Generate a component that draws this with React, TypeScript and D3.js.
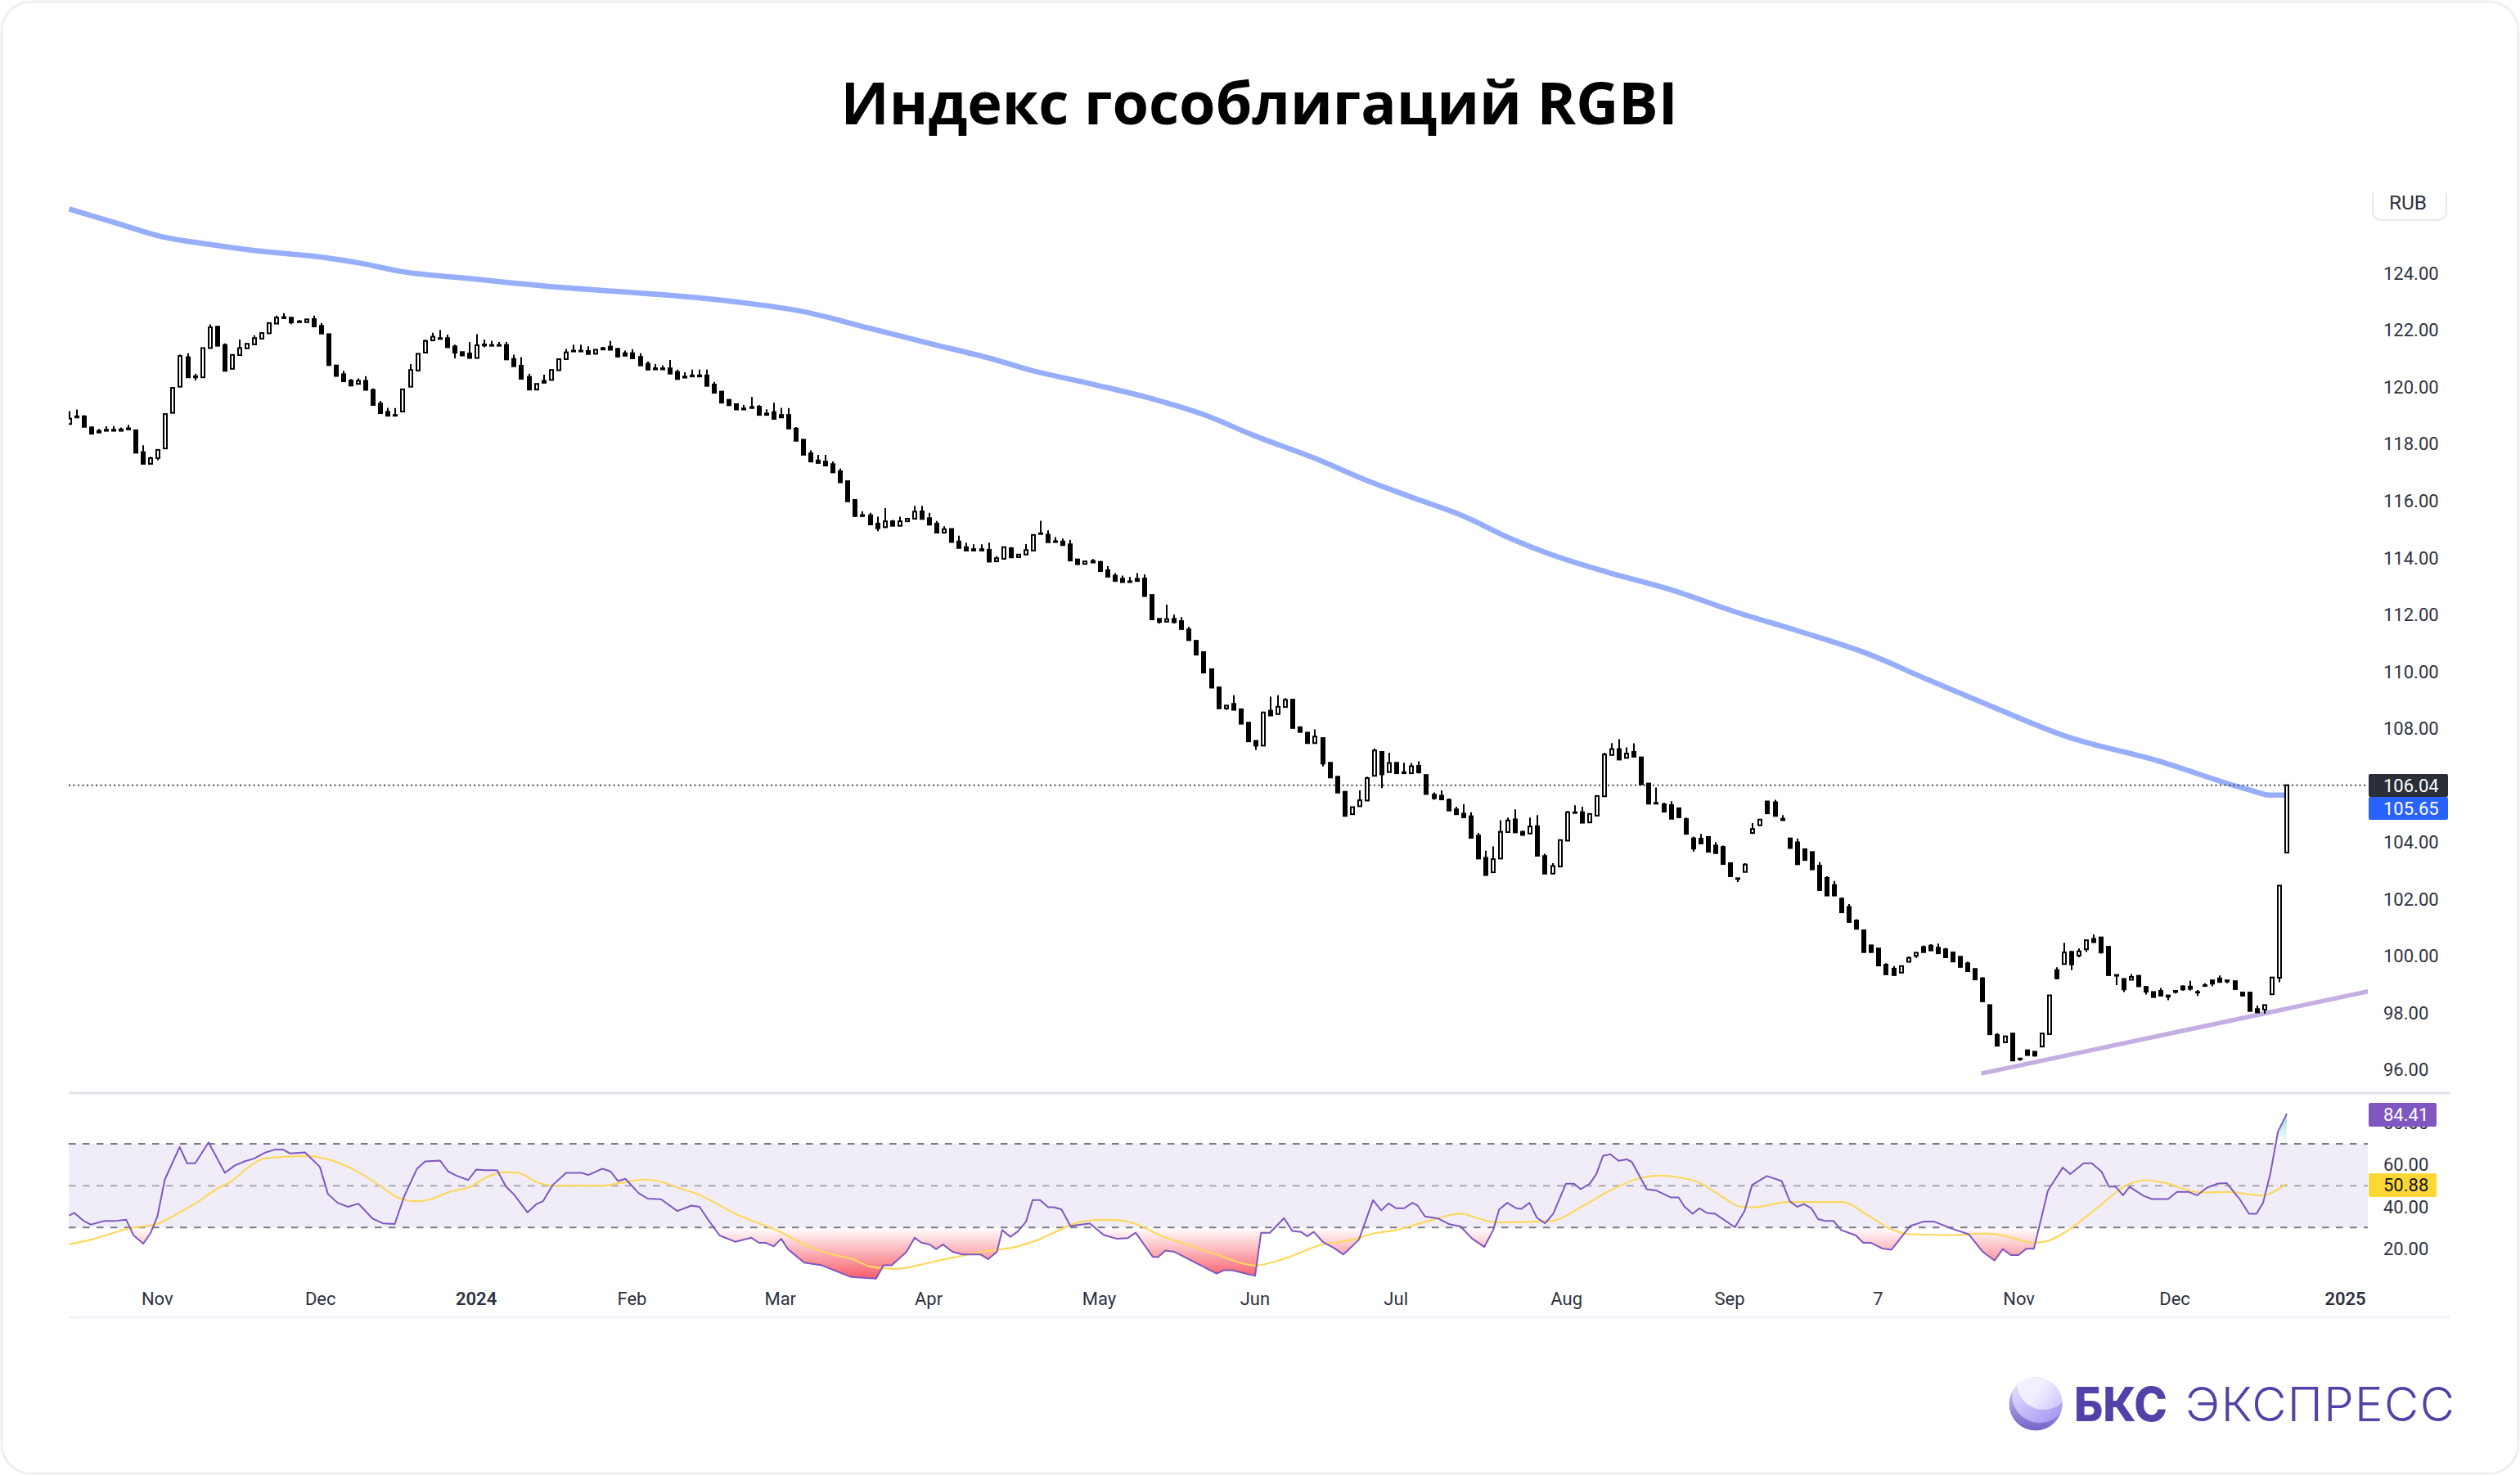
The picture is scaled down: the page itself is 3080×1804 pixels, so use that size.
import * as d3 from 'd3';

const title = 'Индекс гособлигаций RGBI';

// open, high, low, close per daily candle
const ohlc: number[][] = [
  [118.70,119.15,118.70,118.89],[118.97,119.21,118.93,118.93],[118.97,119.01,118.60,118.60],[118.58,118.62,118.36,118.36],[118.46,118.53,118.40,118.40],
  [118.50,118.62,118.46,118.46],[118.50,118.63,118.46,118.46],[118.51,118.58,118.46,118.46],[118.55,118.67,118.51,118.51],[118.48,118.48,117.69,117.69],
  [117.71,117.95,117.30,117.30],[117.30,117.55,117.30,117.50],[117.50,117.79,117.43,117.79],[117.84,119.05,117.84,119.05],[119.09,119.97,119.09,119.97],
  [120.01,121.14,120.01,121.09],[121.05,121.19,120.34,120.34],[120.38,120.47,120.23,120.34],[120.34,121.37,120.34,121.37],[121.37,122.20,121.37,122.10],
  [122.12,122.16,121.45,121.45],[121.48,121.53,120.57,120.57],[120.64,121.13,120.64,121.13],[121.12,121.67,121.12,121.37],[121.36,121.52,121.36,121.52],
  [121.50,121.82,121.50,121.72],[121.70,121.90,121.70,121.90],[121.89,122.25,121.89,122.25],[122.23,122.51,122.23,122.44],[122.46,122.60,122.42,122.42],
  [122.44,122.44,122.21,122.27],[122.31,122.36,122.28,122.28],[122.28,122.38,122.28,122.38],[122.39,122.51,122.13,122.13],[122.15,122.25,121.88,121.88],
  [121.86,121.86,120.77,120.77],[120.76,120.76,120.39,120.39],[120.45,120.57,120.20,120.20],[120.23,120.28,120.05,120.05],[120.11,120.30,120.11,120.22],
  [120.22,120.38,119.90,119.90],[119.90,119.95,119.37,119.37],[119.42,119.51,119.08,119.08],[119.13,119.27,118.99,118.99],[119.02,119.26,118.99,118.99],
  [119.14,119.92,119.14,119.92],[120.01,120.81,120.01,120.60],[120.58,121.17,120.58,121.17],[121.21,121.67,121.21,121.62],[121.64,121.91,121.64,121.77],
  [121.72,122.01,121.69,121.69],[121.72,121.84,121.40,121.40],[121.43,121.49,121.01,121.21],[121.23,121.23,121.11,121.11],[121.18,121.58,121.02,121.02],
  [121.02,121.86,121.02,121.47],[121.50,121.67,121.40,121.46],[121.48,121.63,121.45,121.45],[121.48,121.58,121.45,121.45],[121.48,121.58,120.97,120.97],
  [120.99,121.14,120.73,120.73],[120.75,121.05,120.29,120.29],[120.36,120.47,119.91,119.91],[119.91,120.11,119.91,120.11],[120.22,120.43,120.15,120.15],
  [120.25,120.60,120.25,120.60],[120.59,120.98,120.59,120.98],[120.98,121.34,120.98,121.22],[121.28,121.49,121.25,121.25],[121.28,121.49,121.25,121.25],
  [121.27,121.43,121.16,121.16],[121.17,121.31,121.17,121.31],[121.37,121.41,121.32,121.32],[121.42,121.63,121.31,121.31],[121.34,121.38,121.07,121.07],
  [121.19,121.28,121.10,121.10],[121.19,121.33,121.01,121.01],[121.06,121.19,120.76,120.76],[120.82,120.90,120.61,120.61],[120.66,120.81,120.62,120.62],
  [120.66,120.76,120.62,120.62],[120.66,120.95,120.47,120.47],[120.53,120.61,120.28,120.28],[120.37,120.52,120.33,120.33],[120.41,120.61,120.37,120.37],
  [120.41,120.61,120.37,120.37],[120.41,120.61,120.04,120.04],[120.09,120.18,119.80,119.80],[119.84,119.84,119.45,119.45],[119.55,119.55,119.36,119.36],
  [119.40,119.40,119.21,119.21],[119.25,119.37,119.21,119.21],[119.30,119.65,119.26,119.26],[119.31,119.37,119.02,119.02],[119.07,119.22,119.02,119.02],
  [119.12,119.45,118.88,118.88],[119.02,119.27,118.93,118.93],[119.02,119.26,118.54,118.54],[118.54,118.59,118.11,118.11],[118.15,118.15,117.62,117.62],
  [117.67,117.77,117.38,117.38],[117.42,117.61,117.33,117.33],[117.38,117.61,117.24,117.24],[117.29,117.38,117.00,117.00],[117.04,117.13,116.65,116.65],
  [116.69,116.69,115.98,115.98],[116.03,116.06,115.46,115.46],[115.50,115.63,115.46,115.46],[115.49,115.58,115.17,115.17],[115.20,115.44,114.93,115.03],
  [115.07,115.74,115.07,115.28],[115.28,115.33,115.12,115.12],[115.12,115.44,115.12,115.28],[115.28,115.37,115.28,115.37],[115.37,115.82,115.37,115.62],
  [115.63,115.82,115.36,115.36],[115.39,115.58,115.16,115.16],[115.20,115.29,114.88,114.88],[114.88,115.10,114.88,115.00],[115.01,115.01,114.55,114.55],
  [114.57,114.77,114.34,114.34],[114.37,114.53,114.25,114.25],[114.30,114.47,114.25,114.25],[114.30,114.47,114.25,114.25],[114.28,114.53,113.86,113.86],
  [113.87,114.05,113.87,113.98],[113.96,114.37,113.96,114.37],[114.33,114.38,114.01,114.01],[114.02,114.11,114.02,114.11],[114.11,114.48,114.11,114.27],
  [114.25,114.80,114.25,114.80],[114.86,115.30,114.83,114.83],[114.81,114.96,114.54,114.54],[114.58,114.72,114.55,114.55],[114.57,114.67,114.44,114.44],
  [114.47,114.62,113.90,113.90],[113.94,113.94,113.77,113.77],[113.78,113.87,113.78,113.87],[113.89,113.95,113.83,113.83],[113.85,113.89,113.53,113.53],
  [113.56,113.70,113.33,113.33],[113.37,113.46,113.18,113.18],[113.26,113.37,113.14,113.14],[113.17,113.32,113.14,113.14],[113.26,113.46,113.18,113.18],
  [113.27,113.41,112.65,112.65],[112.69,112.69,111.83,111.83],[111.85,111.85,111.68,111.74],[111.75,112.35,111.75,111.84],[111.85,112.00,111.69,111.73],
  [111.77,111.91,111.49,111.49],[111.48,111.57,111.10,111.10],[111.08,111.08,110.59,110.59],[110.68,110.68,109.96,109.96],[110.08,110.08,109.43,109.43],
  [109.44,109.44,108.70,108.70],[108.70,108.80,108.65,108.80],[108.86,109.16,108.65,108.65],[108.67,108.67,108.16,108.16],[108.20,108.20,107.54,107.54],
  [107.56,107.56,107.24,107.39],[107.39,108.56,107.39,108.56],[108.62,109.11,108.45,108.45],[108.50,109.16,108.50,108.76],[108.75,109.06,108.75,109.00],
  [109.01,109.01,108.01,108.01],[108.04,108.04,107.87,107.87],[107.85,107.85,107.48,107.48],[107.48,107.96,107.48,107.71],[107.66,107.66,106.66,106.76],
  [106.79,106.79,106.27,106.27],[106.30,106.30,105.74,105.74],[105.77,105.77,104.92,104.92],[104.98,105.23,104.98,105.23],[105.26,105.82,105.26,105.47],
  [105.46,106.30,105.46,106.25],[106.33,107.29,106.33,107.22],[107.17,107.17,105.90,106.38],[106.46,107.14,106.46,106.78],[106.79,106.79,106.42,106.42],
  [106.46,106.79,106.42,106.42],[106.42,106.78,106.42,106.67],[106.68,106.84,106.41,106.45],[106.36,106.36,105.69,105.69],[105.67,105.75,105.49,105.54],
  [105.63,105.82,105.50,105.50],[105.49,105.53,105.11,105.11],[105.15,105.24,104.98,104.98],[105.00,105.34,104.87,104.87],[104.91,105.05,104.15,104.15],
  [104.23,104.32,103.42,103.42],[103.45,103.70,102.84,102.84],[102.94,103.85,102.94,103.40],[103.42,104.77,103.42,104.36],[104.35,104.86,104.35,104.76],
  [104.80,105.15,104.34,104.34],[104.36,104.41,104.25,104.25],[104.30,104.86,104.30,104.55],[104.56,104.95,103.52,103.52],[103.51,103.59,102.89,102.89],
  [102.89,103.26,102.89,103.16],[103.14,104.07,103.14,104.07],[104.05,105.09,104.05,105.05],[105.05,105.29,105.02,105.02],[105.05,105.24,104.68,104.68],
  [104.69,104.99,104.69,104.99],[104.93,105.62,104.93,105.62],[105.61,107.14,105.61,107.08],[107.06,107.48,107.06,107.27],[107.27,107.62,106.90,106.90],
  [106.96,107.33,106.96,107.11],[107.17,107.47,107.00,107.00],[106.98,106.98,106.03,106.03],[106.06,106.06,105.35,105.35],[105.38,105.92,105.35,105.35],
  [105.33,105.39,105.07,105.07],[105.30,105.44,104.82,104.82],[105.19,105.19,104.87,104.87],[104.81,104.86,104.29,104.29],[104.13,104.19,103.66,103.77],
  [104.12,104.29,103.95,103.95],[104.18,104.18,103.66,103.66],[103.88,104.00,103.61,103.61],[103.83,103.88,103.23,103.23],[103.26,103.26,102.80,102.80],
  [102.73,102.73,102.60,102.70],[102.95,103.26,102.95,103.21],[104.32,104.67,104.29,104.46],[104.59,104.79,104.59,104.79],[105.43,105.43,105.01,105.01],
  [105.40,105.49,104.92,104.92],[104.82,104.95,104.77,104.77],[104.13,104.13,103.79,103.79],[103.99,104.13,103.22,103.22],[103.75,103.75,103.37,103.37],
  [103.65,103.65,103.04,103.04],[103.17,103.30,102.31,102.31],[102.74,102.80,102.12,102.12],[102.49,102.63,102.12,102.12],[102.01,102.06,101.53,101.53],
  [101.72,101.82,101.19,101.19],[101.24,101.29,100.95,100.95],[100.90,100.90,100.13,100.13],[100.37,100.37,100.13,100.13],[100.26,100.26,99.66,99.66],
  [99.69,99.74,99.35,99.35],[99.55,99.64,99.32,99.32],[99.41,99.64,99.41,99.64],[99.79,99.98,99.79,99.93],[100.00,100.11,99.93,100.11],
  [100.31,100.37,100.13,100.13],[100.36,100.41,100.19,100.19],[100.29,100.43,100.09,100.09],[100.23,100.28,99.95,99.95],[100.12,100.12,99.80,99.80],
  [99.97,99.97,99.61,99.61],[99.74,99.80,99.46,99.46],[99.54,99.54,99.17,99.17],[99.21,99.26,98.40,98.40],[98.27,98.27,97.24,97.24],
  [97.22,97.28,96.84,96.84],[96.96,97.17,96.96,97.17],[97.27,97.27,96.32,96.32],[96.39,96.39,96.31,96.36],[96.68,96.68,96.51,96.51],
  [96.63,96.63,96.46,96.49],[96.81,97.27,96.81,97.27],[97.25,98.61,97.25,98.61],[99.50,99.60,99.17,99.21],[99.71,100.46,99.71,100.12],
  [100.14,100.17,99.50,99.70],[100.01,100.26,99.95,100.16],[100.23,100.55,100.14,100.55],[100.60,100.75,100.48,100.48],[100.65,100.65,100.08,100.12],
  [100.32,100.32,99.32,99.32],[99.33,99.33,98.97,99.30],[99.19,99.19,98.73,98.82],[99.16,99.36,99.16,99.26],[99.30,99.30,98.93,98.93],
  [98.91,98.91,98.64,98.74],[98.73,98.73,98.55,98.55],[98.77,98.87,98.60,98.60],[98.61,98.61,98.44,98.56],[98.77,98.77,98.68,98.73],
  [98.93,98.96,98.77,98.82],[98.92,99.12,98.78,98.84],[98.73,98.80,98.59,98.71],[98.97,99.04,98.94,98.94],[99.14,99.14,98.93,99.02],
  [99.21,99.31,99.08,99.08],[99.14,99.14,99.04,99.10],[99.11,99.11,98.83,98.83],[98.71,98.71,98.60,98.60],[98.71,98.71,98.06,98.06],
  [98.13,98.25,98.01,98.01],[98.11,98.27,97.97,98.27],[98.65,99.24,98.65,99.24],[99.23,102.47,99.07,102.47],[103.63,106.00,103.63,106.00],
];

// long moving average on the price pane, read at candle positions
const maDays = [1,6.8,13.3,19.8,26.3,35,40.4,45.8,54.5,65.3,75.5,82.7,91.4,100,108.7,117.4,126,130.4,139,147.7,154,160.7,169.4,175.9,182.4,188.9,195.3,200.8,208.4,217,225.7,234.4,243,251.7,259.3,270.2,282.6,294.9,297.9,300];
const maValues = [126.26,125.81,125.30,125.02,124.79,124.57,124.35,124.06,123.83,123.55,123.35,123.21,122.98,122.65,122.08,121.51,120.95,120.61,120.10,119.54,119.03,118.30,117.45,116.72,116.09,115.47,114.68,114.11,113.49,112.87,112.09,111.40,110.67,109.70,108.87,107.72,106.86,105.84,105.65,105.65];

const trendDays = [258.8, 311.3];
const trendValues = [95.86, 98.77];

const rsiDays = [1,1.7,2.9,3.9,5.7,7.1,8.7,9.7,11,12,12.9,13.9,15.9,16.9,18,19.8,22,23.3,24.7,25.9,27.5,28.8,29.8,30.8,32.8,34.8,35.9,37.2,38.6,40,41.9,43.3,44.9,46.2,47.9,49,51,52.1,53.2,54.8,55.9,57.1,58.7,59.9,61,62.8,64,64.9,66.2,68,70.1,71,72.9,74,75,76,77.8,79,80.8,83,84.9,86,87.1,88.7,90.8,93,94,94.9,96,97,97.9,100.1,102.5,106,106.4,109.8,110.8,111.9,113.9,115,115.9,117,117.9,118.8,120.1,121.5,123.9,124.9,126.1,126.8,127.9,128.9,130,130.9,131.9,133,133.8,134.8,136,137.4,138.6,140.5,142.3,143.7,144.8,147.1,147.8,148.8,150,155.7,156.7,157.8,160.9,161.7,162.9,164.8,165.9,167.1,167.9,168.8,170.1,171.5,172.8,174.9,176.8,177.9,178.9,179.9,181,182.1,182.8,183.8,185.6,187,188.6,190.1,191.8,193,193.8,194.9,196.1,196.8,197.9,198.9,200,201.1,202.8,203.9,204.8,206,206.9,207.8,208.8,209.9,211,211.7,213.7,215,216.9,218,218.8,219.9,220.8,221.8,222.9,225.6,226.9,227.9,229.9,231.9,233,234,234.9,235.9,236.8,237.8,238.9,239.9,241.9,242.9,243.9,245.5,246.7,249.2,251.1,252.4,254.9,257.1,259,260.6,261.7,262.8,263.8,264.9,265.9,267.8,269.8,270.8,272.6,273.7,275,276,276.9,277.9,278.8,280.7,281.8,284,285.2,286.8,287.9,289.2,290.6,291.9,293.6,294.9,295.9,296.8,297.8,298.8,300];
const rsiValues = [35.7,37,33.3,31.4,33.1,33.1,33.7,26.2,22.3,27.5,35.3,52.9,68.5,60.7,60.7,70.7,56.1,59.6,61.7,62.9,65.9,67.3,67.3,65.4,65.9,59,46,41.8,39.9,41.4,34.3,32,31.7,45.1,58.1,61.6,62,56.8,54.8,52.7,57.7,57.4,57.4,49.6,45.7,37.2,41.2,42.6,50.3,56.1,56.1,55.1,58.1,56.8,52.2,53.3,46.4,43.8,43.5,37.9,40.5,39.9,34,26.2,23.2,25.1,22.7,22.7,21,24.6,19.7,13.2,11.9,6.9,6.4,5.6,11.9,11.9,18.4,25.1,22.8,21.9,19.7,21.9,18.4,17.1,17.1,14.9,18.4,28.8,25.5,28.1,32.7,43.1,43.1,39.7,39.7,38.6,30.7,31.4,32,26.4,24.6,24.9,27.5,16,15.8,19,18.4,8,9.6,9.6,6.9,27.5,27.5,34.5,28.4,27.9,25.8,27.9,22.9,20.3,17.1,24.2,43.1,38.2,41.5,39.2,39.2,41.8,40.5,35.3,34.3,31.7,30.5,24.9,20.7,28.8,38.6,41.8,39.2,38.9,41.8,34.6,32,36.6,50.9,50.9,48.3,50.9,55.5,64.2,65,61.9,62.6,61.3,48.3,47.7,44.4,44.4,39.9,36.6,39.2,37,36.6,30.1,37.9,50.3,54.6,52.2,42.5,39.9,41.2,39.2,34,33.1,33.1,28.8,26.2,22.7,22.7,19.9,19.4,30.7,32.9,32.9,29.4,26.8,18.4,14.2,19.7,16.8,16.8,19.9,19.9,47.7,58.7,55.5,60.7,60.7,56.8,49.6,49.6,45.4,49.4,45.1,43.6,43.6,47,47,45.4,49,50.9,51.2,43.8,36.6,36.6,41.8,56.1,75.7,84.41];

const rsiMaDays = [1,3.9,8.9,13.1,15.9,18.7,20.8,22.9,25.4,27.2,29.3,32.8,35.6,40.5,43.3,45.4,47.9,49.7,52.1,55,57.4,59.5,61.6,64.1,66.2,72.9,75.7,78.5,80.6,83.1,86.3,90.8,94,96.8,100.3,103.9,106.4,109.2,112.4,117.7,124,128.9,131.7,134.5,137.4,140.2,143,145.1,148.3,151.4,155.7,160.9,164.8,169.7,174,176.8,179.9,183.8,188.7,190.8,193.3,197.9,201.1,204.9,208.4,212.7,215.5,217.6,220.7,223.7,226.4,227.9,232.8,240,243.5,246.5,249.2,254.9,259.4,261.7,265.9,267.8,270.8,274.6,278.8,281.1,283.7,288.3,292.1,296.6,297.8,300];
const rsiMaValues = [22,24.2,29.4,32,37.2,43.1,48.3,52.2,59.4,62.9,63.6,64.2,62.9,55.5,49,44.2,42.5,43.5,46.8,49.4,54.2,56.5,56.1,51.6,50,50,51.6,52.9,52,49,45.1,36.6,32,28.1,21.6,17.1,15.2,11.2,10.2,13.8,18.4,21,24.2,28.8,32.7,33.7,33.3,31.4,25.9,22.3,17.1,11.9,15.1,21.6,24.2,27.1,28.8,32.7,36.6,34.6,32.4,32.7,33.3,39.9,47,53.5,54.8,54.2,51.6,45.1,39.9,39.6,42.2,42.2,35.9,29.4,26.8,26.4,27.1,26.2,22.7,23.6,29.4,39.9,50.9,52.6,51.2,46.8,47,45.3,46.4,50.88];

const priceTicks = [96,98,100,102,104,108,110,112,114,116,118,120,122,124];
const rsiTicks = [80,60,40,20];
const rsiBands = [70,50,30];
const timeTicks = [13,35,56,77,97,117,140,161,180,203,225,245,264,285,308];
const timeLabels = ['Nov','Dec','2024','Feb','Mar','Apr','May','Jun','Jul','Aug','Sep','7','Nov','Dec','2025'];
const timeBold = ['2024','2025'];

const lastPrice = '106.04';
const lastMa = '105.65';
const lastRsi = 84.41;
const lastRsiMa = 50.88;

const W = 3080;
const H = 1804;
const LEFT = 84;
const PLOT_RIGHT = 2894;
const PANE_RIGHT = 2995;
const LABEL_X = 2913;
const AXIS_FONT = 'Roboto, sans-serif';
const AXIS_COLOR = '#2e3240';

const x = d3.scaleLinear().domain([1, 300]).range([84.5, 2795]);
const y = d3.scaleLinear().domain([96, 124]).range([1307.3, 334]);
const ry = d3.scaleLinear().domain([30, 70]).range([1500.3, 1398]);

const priceLine = d3.line<number>().x((_, i) => x(maDays[i])).y(d => y(d)).curve(d3.curveMonotoneX);
const trendLine = d3.line<number>().x((_, i) => x(trendDays[i])).y(d => y(d));
const rsiLine = d3.line<number>().x((_, i) => x(rsiDays[i])).y(d => ry(d));
const rsiMaLine = d3.line<number>().x((_, i) => x(rsiMaDays[i])).y(d => ry(d)).curve(d3.curveMonotoneX);
const lowArea = d3.area<number>().x((_, i) => x(rsiDays[i])).y0(ry(30)).y1(d => ry(d));
const highArea = d3.area<number>().x((_, i) => x(rsiDays[i])).y0(ry(70)).y1(d => ry(d));

const Candle = ({ row, day }: { row: number[]; day: number }) => {
  const [o, h, l, c] = row;
  const cx = Math.round(x(day));
  const up = c > o;
  const top = y(Math.max(o, c));
  const bottom = y(Math.min(o, c));
  return (
    <g>
      <line x1={cx} x2={cx} y1={y(h)} y2={y(l)} stroke="#000" strokeWidth={2} />
      {up ? (
        <rect x={cx - 2} y={top} width={4} height={Math.max(bottom - top, 2)} fill="#fff" stroke="#000" strokeWidth={2} />
      ) : (
        <rect x={cx - 3} y={top - 1} width={6} height={Math.max(bottom - top + 2, 2)} fill="#000" />
      )}
    </g>
  );
};

const ValueBox = ({ left, width, top, height, fill, color, label }: { left: number; width: number; top: number; height: number; fill: string; color: string; label: string }) => (
  <g>
    <rect x={left} y={top} width={width} height={height} rx={2} fill={fill} />
    <text x={LABEL_X} y={top + height / 2} dy="0.36em" fontFamily={AXIS_FONT} fontSize={22} fill={color}>{label}</text>
  </g>
);

export default function App() {
  return (
    <svg width={W} height={H} viewBox={`0 0 ${W} ${H}`} style={{ position: 'absolute', left: 0, top: 0, display: 'block', background: '#fff' }}>
      <defs>
        <clipPath id="plot"><rect x={LEFT} y={225} width={PLOT_RIGHT - LEFT} height={1110} /></clipPath>
        <clipPath id="belowBand"><rect x={LEFT} y={ry(30)} width={PLOT_RIGHT - LEFT} height={100} /></clipPath>
        <clipPath id="aboveBand"><rect x={LEFT} y={1340} width={PLOT_RIGHT - LEFT} height={ry(70) - 1340} /></clipPath>
        <clipPath id="ball"><circle cx={2488} cy={1716} r={32.5} /></clipPath>
        <linearGradient id="lowFill" gradientUnits="userSpaceOnUse" x1={0} x2={0} y1={ry(30)} y2={ry(4)}>
          <stop offset="0" stopColor="#f7525f" stopOpacity={0} />
          <stop offset="1" stopColor="#f7525f" stopOpacity={1} />
        </linearGradient>
        <linearGradient id="highFill" gradientUnits="userSpaceOnUse" x1={0} x2={0} y1={ry(70)} y2={ry(90)}>
          <stop offset="0" stopColor="#22ab94" stopOpacity={0} />
          <stop offset="1" stopColor="#22ab94" stopOpacity={0.6} />
        </linearGradient>
        <linearGradient id="ballA" x1="0" x2="0" y1="0" y2="1">
          <stop offset="0" stopColor="#d9d3ff" />
          <stop offset="1" stopColor="#7562c6" />
        </linearGradient>
        <linearGradient id="ballB" x1="0" x2="0.9" y1="0" y2="1">
          <stop offset="0" stopColor="#f3efff" />
          <stop offset="1" stopColor="#9e92f2" />
        </linearGradient>
        <linearGradient id="ballC" x1="0" x2="1" y1="0" y2="0.8">
          <stop offset="0" stopColor="#f8f4ff" />
          <stop offset="0.55" stopColor="#f3eeff" />
          <stop offset="1" stopColor="#c9c2ff" />
        </linearGradient>
      </defs>

      <rect x={2} y={2} width={W - 4} height={H - 5} rx={36} fill="#fff" stroke="#efefef" strokeWidth={3} />

      <text x={1539} y={151.5} textAnchor="middle" fontFamily="'Open Sans', sans-serif" fontWeight={700} fontSize={72} fill="#000">{title}</text>

      {/* price pane */}
      <g clipPath="url(#plot)">
        <path d={priceLine(maValues) ?? ''} fill="none" stroke="#96aefc" strokeWidth={6.5} strokeLinejoin="round" />
        <path d={trendLine(trendValues) ?? ''} fill="none" stroke="#c4aee2" strokeWidth={5.5} />
        <line x1={LEFT} x2={PLOT_RIGHT} y1={y(106)} y2={y(106)} stroke="#444" strokeWidth={2} strokeDasharray="2 3.5" />
        {ohlc.map((row, i) => <Candle key={i} row={row} day={i + 1} />)}
      </g>

      {priceTicks.map(t => (
        <text key={t} x={LABEL_X} y={y(t)} dy="0.36em" fontFamily={AXIS_FONT} fontSize={22} fill={AXIS_COLOR}>{t.toFixed(2)}</text>
      ))}
      <path d="M2900 236V259a10 10 0 0 0 10 10h70a10 10 0 0 0 10 -10V236" fill="#fff" stroke="#e6e8ef" strokeWidth={2} />
      <text x={2943} y={247} dy="0.36em" textAnchor="middle" fontFamily={AXIS_FONT} fontSize={24.5} fill={AXIS_COLOR}>RUB</text>
      <ValueBox left={2895} width={97} top={946} height={28} fill="#2a2e39" color="#fff" label={lastPrice} />
      <ValueBox left={2895} width={97} top={974} height={28} fill="#2962ff" color="#fff" label={lastMa} />

      <line x1={LEFT} x2={PANE_RIGHT} y1={1336} y2={1336} stroke="#e0e3eb" strokeWidth={3} />

      {/* RSI pane */}
      <rect x={LEFT} y={ry(70)} width={PLOT_RIGHT - LEFT} height={ry(30) - ry(70)} fill="#7e57c2" fillOpacity={0.11} />
      <g clipPath="url(#belowBand)"><path d={lowArea(rsiValues) ?? ''} fill="url(#lowFill)" /></g>
      <g clipPath="url(#aboveBand)"><path d={highArea(rsiValues) ?? ''} fill="url(#highFill)" /></g>
      {rsiBands.map(b => (
        <line key={b} x1={LEFT} x2={PLOT_RIGHT} y1={ry(b)} y2={ry(b)} stroke="#787b86" strokeOpacity={b === 50 ? 0.6 : 1} strokeWidth={2} strokeDasharray="8.5 8.5" />
      ))}
      <path d={rsiMaLine(rsiMaValues) ?? ''} fill="none" stroke="#fdd85e" strokeWidth={2.2} />
      <path d={rsiLine(rsiValues) ?? ''} fill="none" stroke="#7e57c2" strokeWidth={2} strokeLinejoin="round" />

      {rsiTicks.map(t => (
        <text key={t} x={LABEL_X} y={ry(t)} dy="0.36em" fontFamily={AXIS_FONT} fontSize={22} fill={AXIS_COLOR}>{t.toFixed(2)}</text>
      ))}
      <ValueBox left={2895} width={83} top={1348} height={29} fill="#7e57c2" color="#fff" label={lastRsi.toFixed(2)} />
      <ValueBox left={2895} width={83} top={1434} height={29} fill="#fdd835" color="#131722" label={lastRsiMa.toFixed(2)} />

      {/* time axis */}
      {timeTicks.map((t, i) => (
        <text key={t} x={x(t) - 1} y={1587} dy="0.36em" textAnchor="middle" fontFamily={AXIS_FONT} fontSize={22}
          fontWeight={timeBold.includes(timeLabels[i]) ? 600 : 400} fill={AXIS_COLOR}>{timeLabels[i]}</text>
      ))}
      <line x1={LEFT} x2={PANE_RIGHT} y1={1610} y2={1610} stroke="#f0f3fa" strokeWidth={3} />

      {/* logo */}
      <g clipPath="url(#ball)">
        <circle cx={2488} cy={1716} r={33} fill="url(#ballA)" />
        <circle cx={2493} cy={1705} r={34} fill="url(#ballB)" />
        <circle cx={2498} cy={1690} r={33} fill="url(#ballC)" />
      </g>
      <text x={2535} y={1736.5} fontFamily="Inter, sans-serif" fontWeight={800} fontSize={58} fill="#5241a8" textLength={114} lengthAdjust="spacingAndGlyphs">БКС</text>
      <text x={2671} y={1736.5} fontFamily="Inter, sans-serif" fontWeight={300} fontSize={58} fill="#5241a8" textLength={329} lengthAdjust="spacing">ЭКСПРЕСС</text>
    </svg>
  );
}
